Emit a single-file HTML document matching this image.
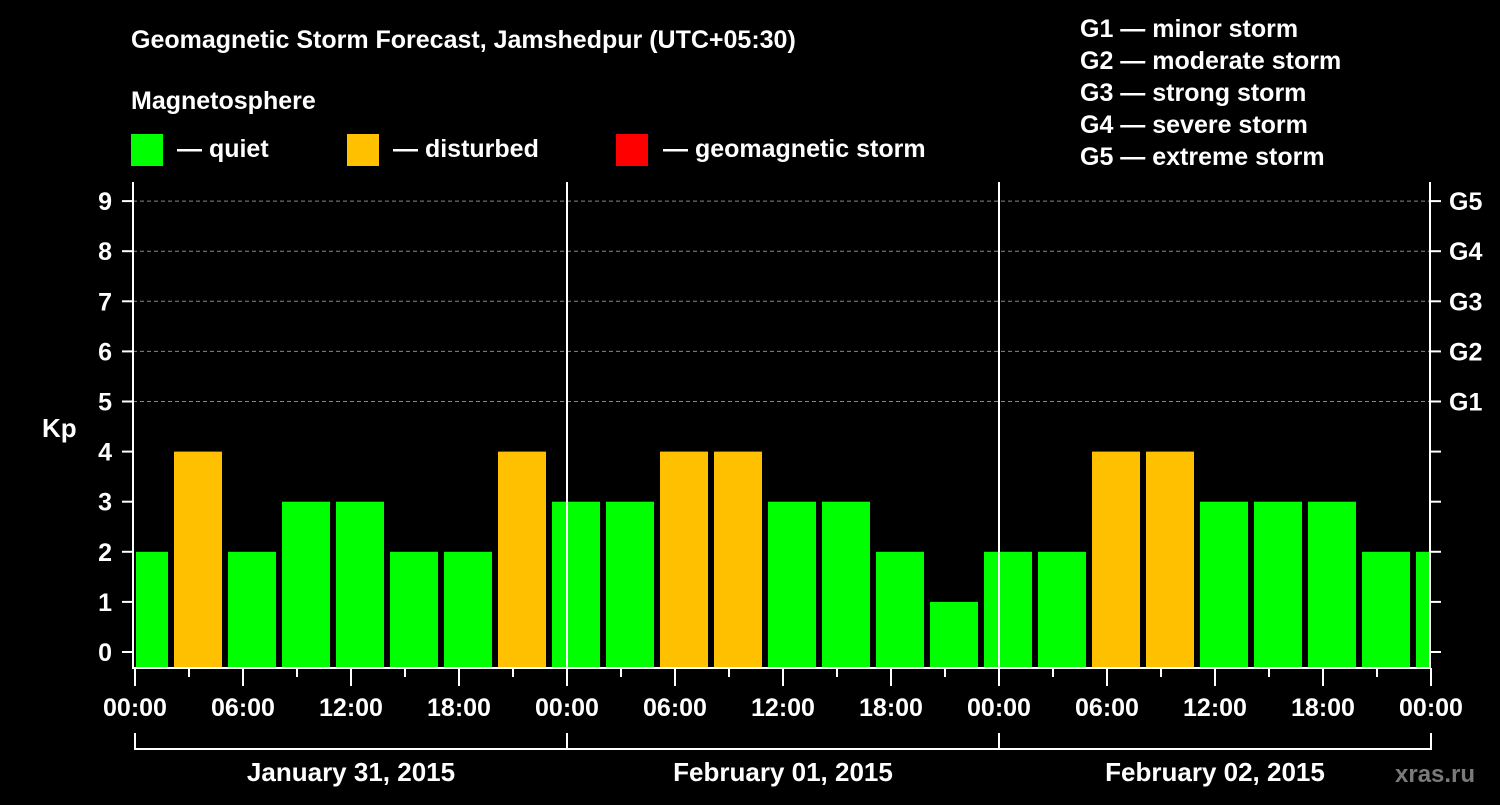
<!DOCTYPE html>
<html><head><meta charset="utf-8"><style>
html,body{margin:0;padding:0;background:#000;}
svg text{font-family:"Liberation Sans",sans-serif;font-weight:bold;fill:#fff;}
</style></head><body>
<svg id="chart" width="1500" height="800" xmlns="http://www.w3.org/2000/svg">
<rect width="1500" height="800" fill="#000"/>
<text x="131" y="48" font-size="25">Geomagnetic Storm Forecast, Jamshedpur (UTC+05:30)</text>
<text x="131" y="109" font-size="25">Magnetosphere</text>
<g>
<rect x="131" y="134" width="32" height="32" fill="#00ff00"/>
<text x="177" y="157" font-size="25">— quiet</text>
<rect x="347" y="134" width="32" height="32" fill="#ffc000"/>
<text x="393" y="157" font-size="25">— disturbed</text>
<rect x="616" y="134" width="32" height="32" fill="#ff0000"/>
<text x="663" y="157" font-size="25">— geomagnetic storm</text>
</g>
<g font-size="25">
<text x="1080" y="37" font-size="25">G1 — minor storm</text>
<text x="1080" y="69" font-size="25">G2 — moderate storm</text>
<text x="1080" y="101" font-size="25">G3 — strong storm</text>
<text x="1080" y="133" font-size="25">G4 — severe storm</text>
<text x="1080" y="165" font-size="25">G5 — extreme storm</text>
</g>
<g id="grid"></g>
<g id="bars"></g>
<g id="axes"></g>
<text x="42" y="437" font-size="26">Kp</text>
<text x="1395" y="782" font-size="24" fill="#777" style="fill:#7a7a7a">xras.ru</text>
</svg>
<script>
const kpValues=[2,4,2,3,3,2,2,4,3,3,4,4,3,3,2,1,2,2,4,4,3,3,3,2,2];
const yTicks=[0,1,2,3,4,5,6,7,8,9];
const gLabels=["","","","","","G1","G2","G3","G4","G5"];
const timeLabels=["00:00","06:00","12:00","18:00","00:00","06:00","12:00","18:00","00:00","06:00","12:00","18:00","00:00"];
const dayLabels=["January 31, 2015","February 01, 2015","February 02, 2015"];
const NS="http://www.w3.org/2000/svg";
const L=133,R=1430,T=182,B=668;
const y=v=>652-v*50.1;
const hourX=h=>135+h*18;
function mk(tag,attrs,parent){const e=document.createElementNS(NS,tag);for(const k in attrs)e.setAttribute(k,attrs[k]);parent.appendChild(e);return e;}
const grid=document.getElementById('grid'),bars=document.getElementById('bars'),axes=document.getElementById('axes');
for(let v=5;v<=9;v++){
 const l=mk('line',{x1:L,x2:R,y1:y(v),y2:y(v),stroke:'#888','stroke-dasharray':'4,3','stroke-width':1},grid);
 
 
}
kpValues.forEach((v,i)=>{
 let x0=hourX(-0.833+3*i),x1=x0+48;
 x0=Math.max(x0,136);x1=Math.min(x1,1429);
 const r=mk('rect',{x:x0,y:y(v),width:x1-x0,height:B-y(v),fill:v>=5?'#ff0000':(v>=4?'#ffc000':'#00ff00')},bars);
 
 
});
const frame=mk('path',{d:`M${L} ${T}V${B}H${R}V${T}`,stroke:'#fff','stroke-width':2,fill:'none'},axes);


for(let d=1;d<=2;d++){
 const l=mk('line',{x1:hourX(24*d),x2:hourX(24*d),y1:T,y2:B,stroke:'#fff','stroke-width':2},axes);
 
 
}
yTicks.forEach(v=>{
 mk('line',{x1:122,x2:L,y1:y(v),y2:y(v),stroke:'#fff','stroke-width':2},axes);
 mk('line',{x1:R,x2:1441,y1:y(v),y2:y(v),stroke:'#fff','stroke-width':2},axes);
 const t=mk('text',{x:112,y:y(v)+9,'font-size':25,'text-anchor':'end'},axes);t.textContent=v;
 
 
 if(gLabels[v]){const g=mk('text',{x:1449,y:y(v)+9,'font-size':25},axes);g.textContent=gLabels[v];
 
 }
});
for(let h=0;h<=72;h+=3){
 const long=h%6===0;
 mk('line',{x1:hourX(h),x2:hourX(h),y1:B,y2:long?686:677,stroke:'#fff','stroke-width':2},axes);
}
timeLabels.forEach((s,i)=>{
 const t=mk('text',{x:hourX(i*6),y:716,'font-size':25,'text-anchor':'middle'},axes);t.textContent=s;
 
 
});
const br=mk('path',{d:`M${hourX(0)} 733V749H${hourX(72)}V733M${hourX(24)} 733V749M${hourX(48)} 733V749`,stroke:'#fff','stroke-width':2,fill:'none'},axes);


dayLabels.forEach((s,i)=>{
 const t=mk('text',{x:hourX(24*i+12),y:781,'font-size':26,'text-anchor':'middle'},axes);t.textContent=s;
 
 
});
</script>
</body></html>
